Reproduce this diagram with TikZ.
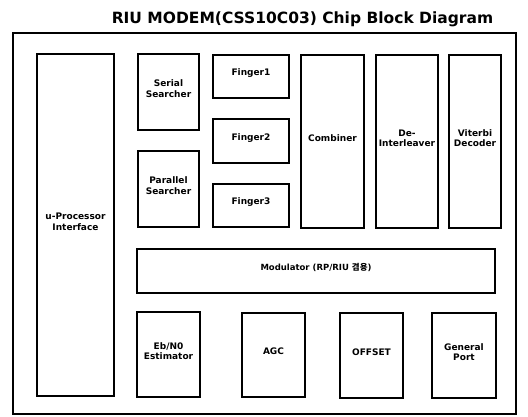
\documentclass[tikz,border=0pt]{standalone}
\usepackage{fontspec}
\setmainfont{DejaVu Sans}
\newfontfamily\krfont{Noto Sans CJK KR}
\usetikzlibrary{fit,positioning}

\tikzset{
  blk/.style={draw,line width=1.6pt,inner sep=0pt,align=center,
    font=\bfseries\fontsize{9}{10.5}\selectfont},
  frame/.style={draw,line width=1.6pt}
}

\begin{document}
\begin{tikzpicture}[x=1pt,y=-1pt]
  \useasboundingbox (0,0) rectangle (528,416);

  % title and chip outline
  \node[font=\bfseries\fontsize{15.5}{18}\selectfont] (title) at (302.5,19)
    {RIU MODEM(CSS10C03) Chip Block Diagram};
  \draw[frame] (13,33) rectangle (516,414);

  % blocks: name / x1 / y1 / x2 / y2 / label
  \foreach \nm/\xa/\ya/\xb/\yb/\txt in {
    upi/37/54/114/396/{u-Processor\\Interface},
    serial/138/54/199/130/{Serial\\Searcher},
    parallel/138/151/199/227/{Parallel\\Searcher},
    finger1/213/55/289/98/{Finger1},
    finger2/213/119/289/163/{Finger2},
    finger3/213/184/289/227/{Finger3},
    combiner/301/55/364/228/{Combiner},
    deint/376/55/438/228/{De-\\Interleaver},
    viterbi/449/55/501/228/{Viterbi\\Decoder},
    ebno/137/312/200/397/{Eb/N0\\Estimator},
    agc/242/313/305/397/{AGC},
    offset/340/313/403/398/{OFFSET},
    gport/432/313/496/398/{General\\Port}}{
    \node[blk,fit={(\xa,\ya) (\xb,\yb)}] (\nm) {\txt};
  }

  % modulator bar
  \node[blk,fit={(137,249) (495,293)},font=\bfseries\fontsize{8.5}{10}\selectfont]
    (modulator) {Modulator (RP/RIU {\krfont\bfseries 겸용})};
\end{tikzpicture}
\end{document}
